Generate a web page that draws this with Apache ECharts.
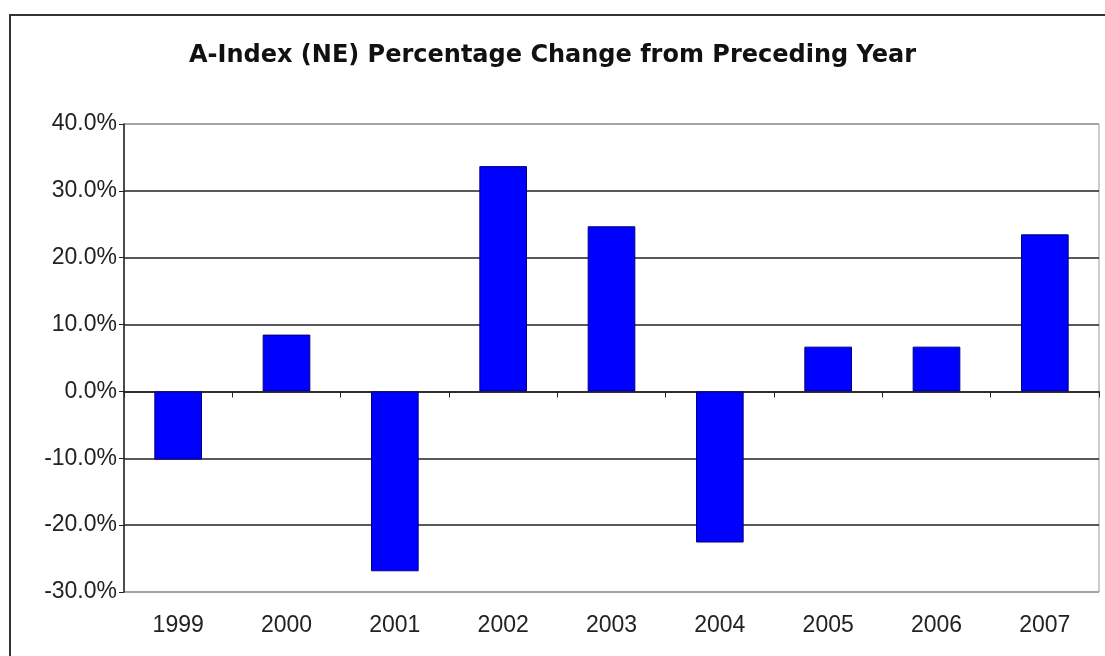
<!DOCTYPE html>
<html>
<head>
<meta charset="utf-8">
<script src="https://cdn.jsdelivr.net/npm/echarts@6/dist/echarts.min.js"></script>
<style>
  html, body { margin: 0; padding: 0; background: #fff; }
  #chart { width: 1105px; height: 656px; }
</style>
</head>
<body>
<div id="chart"></div>
<script>
var years = ['1999', '2000', '2001', '2002', '2003', '2004', '2005', '2006', '2007'];
var pctChange = [-10.2, 8.5, -26.9, 33.7, 24.7, -22.6, 6.7, 6.7, 23.5];

var chartDom = document.getElementById('chart');
var myChart = echarts.init(chartDom);

var option = {
  backgroundColor: '#fff',
  animation: false,
  textStyle: { fontFamily: 'Liberation Sans, Arial, sans-serif' },
  title: {
    text: 'A-Index (NE) Percentage Change from Preceding Year',
    left: 'center',
    top: 39,
    textStyle: { fontSize: 24, fontWeight: 'bold', color: '#111', fontFamily: 'DejaVu Sans' }
  },
  graphic: [
    {
      type: 'rect',
      shape: { x: 10, y: 15, width: 1110, height: 660 },
      style: { fill: 'none', stroke: '#333', lineWidth: 2 },
      silent: true
    }
  ],
  grid: {
    left: 124, right: 6, top: 124, bottom: 64,
    show: true, borderColor: '#999', borderWidth: 1, backgroundColor: '#fff'
  },
  xAxis: [
    {
      type: 'category',
      data: years,
      position: 'bottom',
      axisLine: { show: false, onZero: false },
      axisTick: { show: false },
      axisLabel: { fontSize: 23, color: '#222', margin: 22 },
      splitLine: { show: false }
    },
    {
      type: 'category',
      data: years,
      position: 'top',
      axisLine: { show: true, onZero: true, lineStyle: { color: '#222', width: 1.5 } },
      axisTick: { show: true, inside: true, length: 6, lineStyle: { color: '#222' } },
      axisLabel: { show: false },
      splitLine: { show: false }
    }
  ],
  yAxis: {
    type: 'value',
    min: -30,
    max: 40,
    interval: 10,
    axisLine: { show: true, lineStyle: { color: '#222', width: 1.5 } },
    axisTick: { show: true, length: 5, lineStyle: { color: '#222' } },
    axisLabel: {
      fontSize: 23, color: '#222', margin: 7,
      formatter: function (v) { return v.toFixed(1) + '%'; }
    },
    splitLine: {
      show: true,
      lineStyle: {
        color: ['#999', '#222', '#222', '#222', '#222', '#222', '#222', '#999'],
        width: 1.5
      }
    }
  },
  series: [
    {
      type: 'bar',
      xAxisIndex: 0,
      data: pctChange,
      barWidth: '44%',
      itemStyle: { color: '#0000FF', borderColor: '#000080', borderWidth: 1 }
    }
  ]
};

myChart.setOption(option);
</script>
</body>
</html>
